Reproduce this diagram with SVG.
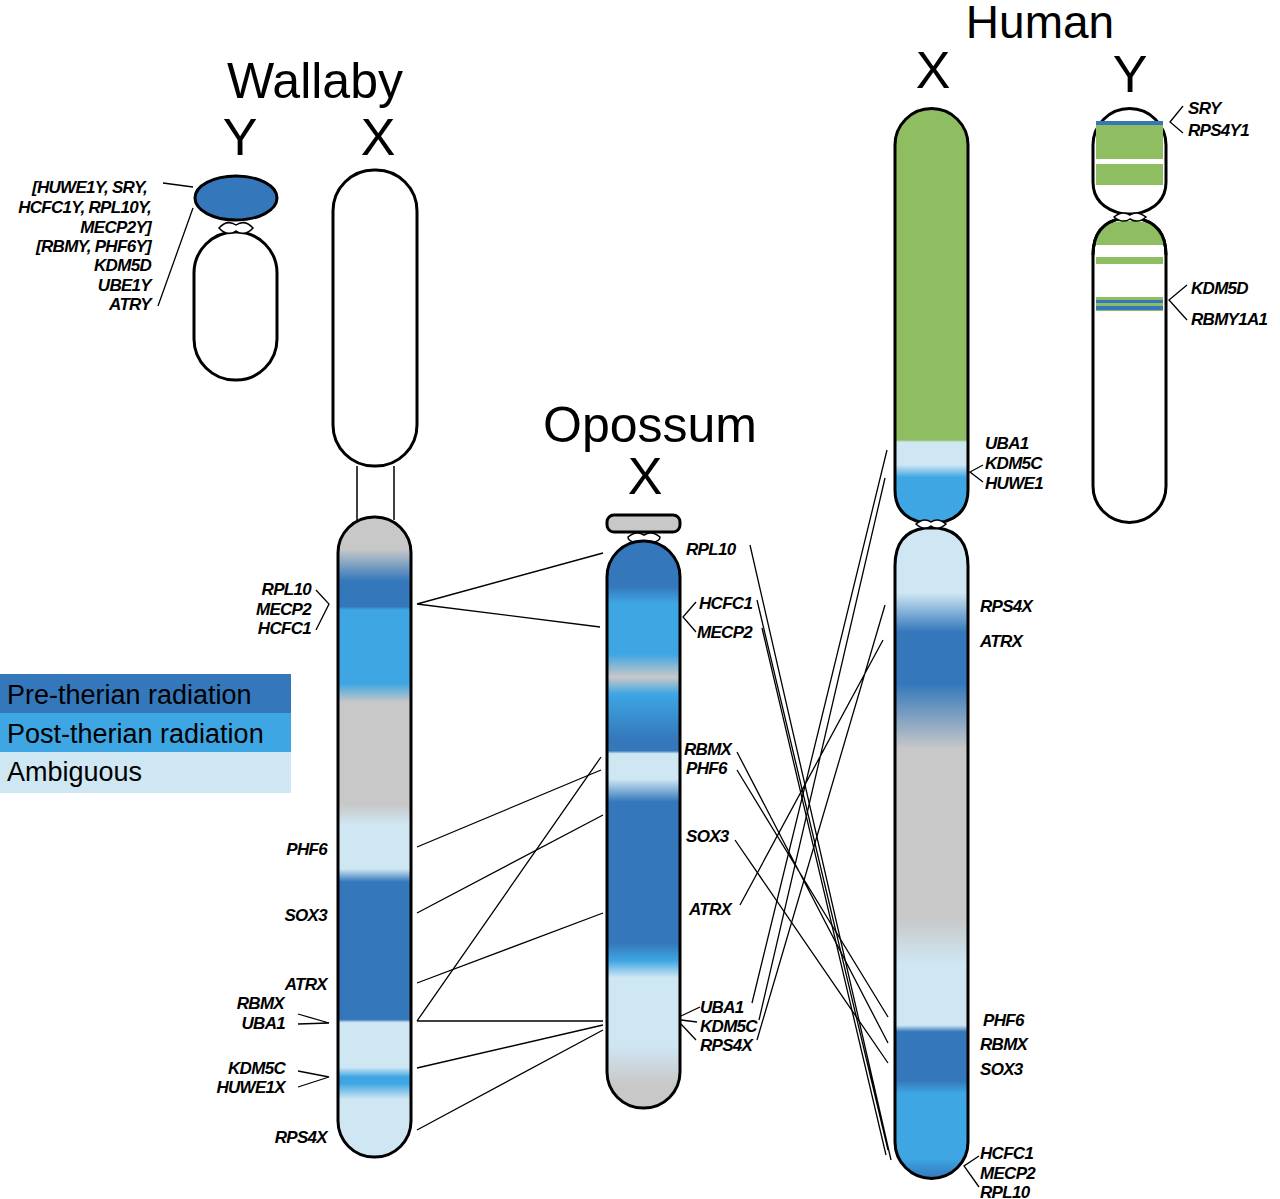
<svg xmlns="http://www.w3.org/2000/svg" width="1280" height="1199" viewBox="0 0 1280 1199">
<style>
.ch{stroke:#000;stroke-width:3}
.t{font-family:"Liberation Sans",Arial,sans-serif;fill:#000}
.g{font-family:"Liberation Sans",Arial,sans-serif;font-style:italic;font-weight:bold;font-size:17px;letter-spacing:-0.7px}
.ln{stroke:#000;stroke-width:1.3;fill:none}
.lg{font-family:"Liberation Sans",Arial,sans-serif;font-size:27px}
</style>
<defs>
<linearGradient id="gwx" gradientUnits="userSpaceOnUse" x1="0" y1="517" x2="0" y2="1157">
<stop offset="0" stop-color="#c8c8c8"/><stop offset="0.05" stop-color="#c8c8c8"/>
<stop offset="0.1" stop-color="#3478bb"/><stop offset="0.14" stop-color="#3478bb"/>
<stop offset="0.145" stop-color="#3ea6e3"/><stop offset="0.26" stop-color="#3ea6e3"/>
<stop offset="0.29" stop-color="#c8c8c8"/><stop offset="0.45" stop-color="#c8c8c8"/>
<stop offset="0.48" stop-color="#cfe6f3"/><stop offset="0.55" stop-color="#cfe6f3"/>
<stop offset="0.57" stop-color="#3478bb"/><stop offset="0.785" stop-color="#3478bb"/>
<stop offset="0.79" stop-color="#cfe6f3"/><stop offset="0.86" stop-color="#cfe6f3"/>
<stop offset="0.875" stop-color="#3ea6e3"/><stop offset="0.885" stop-color="#3ea6e3"/>
<stop offset="0.91" stop-color="#cfe6f3"/><stop offset="1" stop-color="#cfe6f3"/>
</linearGradient>
<linearGradient id="gox" gradientUnits="userSpaceOnUse" x1="0" y1="541" x2="0" y2="1108">
<stop offset="0" stop-color="#3478bb"/><stop offset="0.08" stop-color="#3478bb"/>
<stop offset="0.11" stop-color="#3ea6e3"/><stop offset="0.2" stop-color="#3ea6e3"/>
<stop offset="0.24" stop-color="#c8c8c8"/><stop offset="0.27" stop-color="#3ea6e3"/>
<stop offset="0.35" stop-color="#3478bb"/><stop offset="0.37" stop-color="#3478bb"/>
<stop offset="0.375" stop-color="#cfe6f3"/><stop offset="0.42" stop-color="#cfe6f3"/>
<stop offset="0.46" stop-color="#3478bb"/><stop offset="0.71" stop-color="#3478bb"/>
<stop offset="0.74" stop-color="#3ea6e3"/><stop offset="0.77" stop-color="#cfe6f3"/>
<stop offset="0.89" stop-color="#cfe6f3"/><stop offset="0.96" stop-color="#c8c8c8"/>
<stop offset="1" stop-color="#c8c8c8"/>
</linearGradient>
<linearGradient id="ghx1" gradientUnits="userSpaceOnUse" x1="0" y1="108" x2="0" y2="523">
<stop offset="0" stop-color="#8fbd62"/><stop offset="0.8" stop-color="#8fbd62"/>
<stop offset="0.805" stop-color="#cfe6f3"/><stop offset="0.86" stop-color="#cfe6f3"/>
<stop offset="0.89" stop-color="#3ea6e3"/><stop offset="1" stop-color="#3ea6e3"/>
</linearGradient>
<linearGradient id="ghx2" gradientUnits="userSpaceOnUse" x1="0" y1="528" x2="0" y2="1178">
<stop offset="0" stop-color="#cfe6f3"/><stop offset="0.1" stop-color="#cfe6f3"/>
<stop offset="0.16" stop-color="#3478bb"/><stop offset="0.24" stop-color="#3478bb"/>
<stop offset="0.34" stop-color="#c8c8c8"/><stop offset="0.6" stop-color="#c8c8c8"/>
<stop offset="0.67" stop-color="#cfe6f3"/><stop offset="0.765" stop-color="#cfe6f3"/>
<stop offset="0.775" stop-color="#3478bb"/><stop offset="0.85" stop-color="#3478bb"/>
<stop offset="0.87" stop-color="#3ea6e3"/><stop offset="0.97" stop-color="#3ea6e3"/>
<stop offset="1" stop-color="#3478bb"/>
</linearGradient>
</defs>

<rect width="1280" height="1199" fill="#fff"/>

<g id="titles" class="t">
<text x="315" y="98" font-size="50" text-anchor="middle">Wallaby</text>
<text x="240" y="155" font-size="52" text-anchor="middle">Y</text>
<text x="378" y="155" font-size="52" text-anchor="middle">X</text>
<text x="650" y="442" font-size="50" text-anchor="middle">Opossum</text>
<text x="645" y="494" font-size="52" text-anchor="middle">X</text>
<text x="1040" y="38" font-size="46" text-anchor="middle">Human</text>
<text x="933" y="88" font-size="52" text-anchor="middle">X</text>
<text x="1130" y="92" font-size="52" text-anchor="middle">Y</text>
</g>

<g id="legend">
<rect x="0" y="674" width="291" height="39" fill="#3478bb"/>
<rect x="0" y="713" width="291" height="39" fill="#3ea6e3"/>
<rect x="0" y="752" width="291" height="41" fill="#cfe6f3"/>
<text class="lg" x="7" y="704">Pre-therian radiation</text>
<text class="lg" x="7" y="743">Post-therian radiation</text>
<text class="lg" x="7" y="781">Ambiguous</text>
</g>

<g id="wallabyY">
<rect class="ch" x="194" y="232" width="83" height="148" rx="41" fill="#fff"/>
<path d="M219,228 q8,-9 17,-3 q9,-6 17,3 q-8,9 -17,3 q-9,6 -17,-3z" fill="#fff" stroke="#000" stroke-width="1.5"/>
<ellipse class="ch" cx="236" cy="198" rx="41" ry="22" fill="#3478bb"/>
<text class="g" text-anchor="end"><tspan x="147" y="193">[HUWE1Y, SRY,</tspan><tspan x="151" y="213">HCFC1Y, RPL10Y,</tspan><tspan x="151" y="233">MECP2Y]</tspan><tspan x="151" y="252">[RBMY, PHF6Y]</tspan><tspan x="151" y="271">KDM5D</tspan><tspan x="151" y="291">UBE1Y</tspan><tspan x="151" y="310">ATRY</tspan></text>
<path class="ln" d="M163,183 L193,187 M158,306 L193,208"/>
</g>

<g id="wallabyX">
<rect class="ch" x="333" y="170" width="84" height="296" rx="41" fill="#fff"/>
<path d="M357,466 V520 M394,466 V520" stroke="#000" stroke-width="1.5"/>
<rect class="ch" x="338" y="517" width="73" height="640" rx="36" fill="url(#gwx)"/>
<g class="g" text-anchor="end">
<text x="311" y="595">RPL10</text><text x="311" y="615">MECP2</text><text x="311" y="634">HCFC1</text>
<text x="327" y="855">PHF6</text><text x="327" y="921">SOX3</text><text x="327" y="990">ATRX</text>
<text x="284" y="1009">RBMX</text><text x="285" y="1029">UBA1</text>
<text x="285" y="1074">KDM5C</text><text x="285" y="1093">HUWE1X</text>
<text x="327" y="1143">RPS4X</text>
</g>
<path class="ln" d="M316,590 L329,604 L316,630 M298,1014 L329,1023 L298,1024 M298,1071 L329,1077 L298,1087"/>
</g>

<g id="opossumX">
<rect class="ch" x="607" y="515" width="73" height="17" rx="7" fill="#c8c8c8"/>
<path d="M628,537 q8,-7 16,-2 q8,-5 16,2 q0,6 -16,6 q-16,0 -16,-6z" fill="#fff" stroke="#000" stroke-width="1.5"/>
<rect class="ch" x="607" y="541" width="73" height="567" rx="36" fill="url(#gox)"/>
<g class="g">
<text x="686" y="555">RPL10</text><text x="699" y="609">HCFC1</text><text x="697" y="638">MECP2</text>
<text x="684" y="755">RBMX</text><text x="686" y="774">PHF6</text><text x="686" y="842">SOX3</text>
<text x="689" y="915">ATRX</text>
<text x="700" y="1013">UBA1</text><text x="700" y="1032">KDM5C</text><text x="700" y="1051">RPS4X</text>
</g>
<path class="ln" d="M696,602 L683,617 L696,632 M700,1007 L681,1016 M697,1022 L681,1020 M696,1040 L681,1024"/>
</g>

<g id="humanX">
<path class="ch" d="M895,145 a36,36 0 0 1 73,0 V490 q0,28 -30,33 h-13 q-30,-5 -30,-33z" fill="url(#ghx1)"/>
<path class="ch" d="M895,566 q0,-34 30,-38 h13 q30,4 30,38 V1142 a36,36 0 0 1 -73,0z" fill="url(#ghx2)"/>
<path d="M916,524 q8,-7 15,-2 q7,-5 15,2 q-8,7 -15,2 q-7,5 -15,-2z" fill="#fff" stroke="#000" stroke-width="1.5"/>
<g class="g">
<text x="985" y="449">UBA1</text><text x="985" y="469">KDM5C</text><text x="985" y="489">HUWE1</text>
<text x="980" y="612">RPS4X</text><text x="980" y="647">ATRX</text>
<text x="983" y="1026">PHF6</text><text x="980" y="1050">RBMX</text><text x="980" y="1075">SOX3</text>
<text x="980" y="1159">HCFC1</text><text x="980" y="1179">MECP2</text><text x="980" y="1198">RPL10</text>
</g>
<path class="ln" d="M983,465 L970,472 L983,482 M979,1156 L964,1166 L979,1187"/>
</g>

<g id="humanY">
<path class="ch" d="M1093,145 a36,36 0 0 1 73,0 V182 q0,25 -30,32 h-13 q-30,-7 -30,-32z" fill="#fff"/>
<rect x="1096" y="125" width="67" height="60" fill="#8fbd62"/>
<rect x="1096" y="159" width="67" height="5" fill="#fff"/>
<rect x="1096" y="121" width="67" height="4" fill="#3478bb"/>
<path class="ch" d="M1093,255 q0,-32 30,-37 h13 q30,5 30,37 V486 a36,36 0 0 1 -73,0z" fill="#fff"/>
<path d="M1096,245 q0,-22 27,-24 h13 q27,2 27,24z" fill="#8fbd62"/>
<rect x="1096" y="257" width="67" height="7" fill="#8fbd62"/>
<rect x="1096" y="297" width="67" height="14" fill="#8fbd62"/>
<rect x="1096" y="300" width="67" height="3" fill="#3478bb"/>
<rect x="1096" y="306" width="67" height="4" fill="#3478bb"/>
<path class="ch" d="M1093,255 q0,-32 30,-37 h13 q30,5 30,37" fill="none"/>
<path d="M1114,217 q8,-7 16,-2 q7,-5 16,2 q-8,7 -16,2 q-7,5 -16,-2z" fill="#fff" stroke="#000" stroke-width="1.5"/>
<g class="g">
<text x="1188" y="114">SRY</text><text x="1188" y="136">RPS4Y1</text>
<text x="1191" y="294">KDM5D</text><text x="1191" y="325">RBMY1A1</text>
</g>
<path class="ln" d="M1183,106 L1170,122 L1183,133 M1187,285 L1169,300 L1187,320"/>
</g>

<g id="connectors" class="ln">
<path d="M417,604 L603,553 M417,604 L600,627"/>
<path d="M417,847 L601,770 M417,913 L603,815 M417,983 L603,913"/>
<path d="M417,1021 L601,757 M417,1021 L603,1021"/>
<path d="M417,1068 L603,1025 M417,1130 L603,1030"/>
<path d="M750,545 L891,1160 M757,600 L888,1150 M762,628 L886,1155"/>
<path d="M737,752 L888,1043 M737,770 L888,1017 M735,840 L888,1063"/>
<path d="M740,905 L883,640 M752,1003 L887,450 M759,1020 L885,478 M757,1040 L885,605"/>
</g>
</svg>
